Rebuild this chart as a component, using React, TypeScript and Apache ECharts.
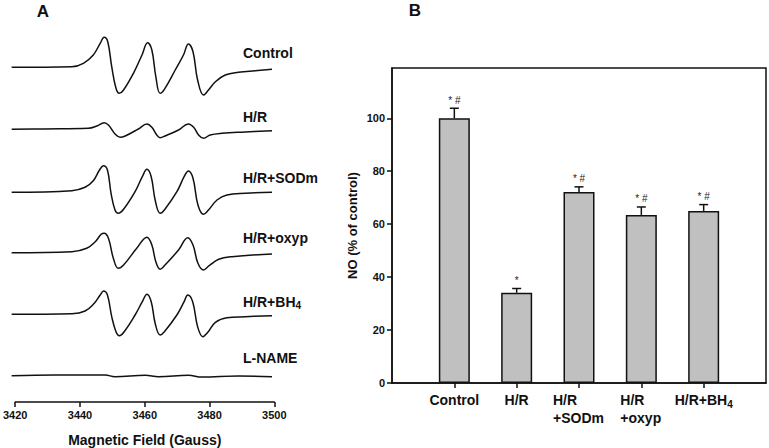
import React, { useEffect, useRef } from "react";
import * as echarts from "echarts";

// ---------- Panel A: EPR spectra (field in Gauss, intensity in a.u. relative to baseline) ----------
const fieldMin = 3420;
const fieldMax = 3500;
const fieldStep = 20;

const traceNames = ["Control", "H/R", "H/R+SODm", "H/R+oxyp", "H/R+BH4", "L-NAME"];

const controlTrace = [
  [3420.2, 0], [3438.5, 0.6], [3442.0, 4], [3445.0, 12.3], [3447.1, 24], [3448.3, 30],
  [3449.4, 25.6], [3450.6, 0.6], [3451.9, -21], [3452.9, -26], [3454.2, -22.7], [3457.2, -6],
  [3459.8, 12.3], [3461.5, 24.6], [3462.8, 17.3], [3464.0, -9.4], [3465.3, -26], [3466.6, -22],
  [3469.9, -2.7], [3472.4, 12.3], [3473.9, 23.3], [3475.3, 15.6], [3476.7, -12.7], [3478.5, -27.7],
  [3480.0, -22.7], [3482.1, -14.4], [3485.1, -7.7], [3489.1, -5], [3494.2, -3.4], [3499.3, -2],
];
const hrTrace = [
  [3420.2, 0], [3430.0, 0.4], [3443.5, 1], [3446.1, 3.3], [3448.3, 6.6], [3449.6, 4.3], [3451.6, -4.7],
  [3453.2, -8], [3454.7, -6.7], [3458.7, 0.3], [3461.3, 5.3], [3462.8, 2], [3464.3, -5.7],
  [3465.3, -8.4], [3466.8, -6.7], [3470.9, -0.7], [3473.9, 5.3], [3475.5, 2], [3477.0, -5.7],
  [3478.5, -9], [3480.5, -5.7], [3484.1, -4], [3491.2, -2.7], [3499.3, -1.4],
];
const sodmTrace = [
  [3420.2, 0], [3438.5, 1.6], [3442.5, 5], [3445.0, 11.6], [3446.9, 22.3], [3448.1, 26.6],
  [3449.3, 22.3], [3450.4, -1], [3451.6, -17.7], [3452.6, -21], [3454.2, -17], [3457.7, 0.6],
  [3459.9, 15.6], [3461.3, 23], [3462.6, 15.6], [3463.8, -7.7], [3465.3, -21], [3466.6, -17.7],
  [3470.4, 0.6], [3472.6, 15.6], [3473.9, 21.3], [3475.3, 14], [3476.8, -12.7], [3478.5, -22],
  [3480.0, -17.7], [3482.6, -7.7], [3485.6, -2.7], [3491.2, -1], [3499.3, 0],
];
const oxypTrace = [
  [3420.2, 0], [3438.5, 1], [3443.0, 4.4], [3445.6, 11], [3447.4, 18.4], [3448.3, 19.4],
  [3449.6, 14.4], [3451.1, -5.6], [3452.6, -15.6], [3454.2, -12.3], [3458.2, 4.4], [3461.3, 15.4],
  [3462.8, 7.7], [3464.0, -9], [3465.3, -16.6], [3466.8, -12.3], [3470.9, 2.7], [3473.7, 15],
  [3475.3, 7.7], [3476.8, -10.6], [3478.5, -17.3], [3480.2, -13], [3483.1, -6.6], [3487.1, -4],
  [3499.3, -1.3],
];
const bh4Trace = [
  [3420.2, 0], [3438.5, 0.6], [3442.5, 3.3], [3445.3, 11], [3447.1, 19.3], [3448.1, 23.3],
  [3449.3, 19.3], [3450.6, -2.4], [3451.9, -17.4], [3452.9, -21.4], [3454.4, -17.4], [3457.7, -0.7],
  [3459.9, 12.6], [3461.3, 20], [3462.6, 12.6], [3463.8, -9], [3465.3, -20.7], [3466.6, -17.4],
  [3470.4, -0.7], [3472.6, 12.6], [3473.7, 19.3], [3475.2, 12.6], [3476.7, -12.4], [3478.3, -22.4],
  [3479.8, -18], [3482.1, -8], [3485.6, -3.4], [3491.2, -2.4], [3499.3, -1.4],
];
const lnameTrace = [
  [3420.2, 0], [3433.4, 0.7], [3448.6, 0.7], [3451.6, -1], [3460.8, 0.4], [3464.8, -1],
  [3473.9, 0.4], [3478.0, -1.3], [3489.1, -0.3], [3499.3, -1],
];

const traces = [controlTrace, hrTrace, sodmTrace, oxypTrace, bh4Trace, lnameTrace];

// ---------- Panel B: NO (% of control) ----------
const groups = ["Control", "H/R", "H/R+SODm", "H/R+oxyp", "H/R+BH4"];
const noMeans = [100, 34.1, 72.2, 63.5, 65.0];
const noErrors = [3.8, 1.6, 1.9, 3.0, 2.4];
const noMarks = ["* #", "*", "* #", "* #", "* #"];
const noTicks = [0, 20, 40, 60, 80, 100];

// layout
const traceBaselines = [67.3, 129.3, 192.3, 252.7, 314.3, 375.7];
const traceLabelY = [53, 117, 178, 238, 302, 358];
const INK = "#111";
const FONT = "Liberation Sans";

export default function App() {
  const ref = useRef<HTMLDivElement>(null);

  useEffect(() => {
    if (!ref.current) return;
    const chart = echarts.init(ref.current, undefined, { renderer: "svg" });

    const grids: any[] = [];
    const xAxes: any[] = [];
    const yAxes: any[] = [];
    const series: any[] = [];

    traces.forEach((tr, i) => {
      grids.push({ left: 11, width: 263.3, top: traceBaselines[i] - 30, height: 60 });
      xAxes.push({ type: "value", gridIndex: i, min: fieldMin, max: fieldMax, show: false });
      yAxes.push({ type: "value", gridIndex: i, min: -30, max: 30, show: false });
      series.push({
        type: "line",
        name: traceNames[i],
        xAxisIndex: i,
        yAxisIndex: i,
        data: tr,
        showSymbol: false,
        smooth: 0.4,
        clip: false,
        lineStyle: { color: INK, width: 1.5 },
      });
    });

    // field axis
    const ai = traces.length;
    grids.push({ left: 11, width: 263.3, top: 380, height: 22 });
    xAxes.push({
      type: "value",
      gridIndex: ai,
      min: fieldMin,
      max: fieldMax,
      interval: fieldStep,
      splitLine: { show: false },
      axisLine: { lineStyle: { color: INK, width: 1.5 } },
      axisTick: { length: 5, lineStyle: { color: INK, width: 1.5 } },
      axisLabel: {
        color: INK,
        fontWeight: "bold",
        fontSize: 11,
        margin: 7,
        fontFamily: FONT,
        formatter: (v: number) => String(v),
      },
      name: "Magnetic Field (Gauss)",
      nameLocation: "middle",
      nameGap: 31,
      nameTextStyle: { color: INK, fontWeight: "bold", fontSize: 14, fontFamily: FONT },
    });
    yAxes.push({ type: "value", gridIndex: ai, show: false, min: 0, max: 1 });

    // bar panel
    const bi = ai + 1;
    const cats = ["", ...groups, ""];
    grids.push({
      left: 392,
      right: 1,
      top: 68,
      bottom: 65,
      show: true,
      borderColor: INK,
      borderWidth: 1.5,
    });
    xAxes.push({
      type: "category",
      gridIndex: bi,
      data: cats,
      boundaryGap: false,
      axisLine: { lineStyle: { color: INK, width: 1.5 } },
      axisTick: {
        length: 5,
        interval: (idx: number) => idx > 0 && idx < cats.length - 1,
        lineStyle: { color: INK, width: 1.5 },
      },
      axisLabel: {
        interval: 0,
        margin: 8,
        color: INK,
        fontWeight: "bold",
        fontSize: 14,
        lineHeight: 18,
        fontFamily: FONT,
        formatter: (v: string) => {
          if (v === "H/R+SODm") return "{s|H/R}\n{s|+SODm}";
          if (v === "H/R+oxyp") return "{o|H/R}\n{o|+oxyp}";
          if (v === "H/R+BH4") return "H/R+BH{sub|4}";
          return v;
        },
        rich: {
          s: { width: 52, align: "left", fontWeight: "bold", fontSize: 14, lineHeight: 18, color: INK, fontFamily: FONT },
          o: { width: 42, align: "left", fontWeight: "bold", fontSize: 14, lineHeight: 18, color: INK, fontFamily: FONT },
          sub: { fontSize: 10, fontWeight: "bold", verticalAlign: "bottom", lineHeight: 12, padding: [6, 0, 0, 0], color: INK, fontFamily: FONT },
        },
      },
    });
    yAxes.push({
      type: "value",
      gridIndex: bi,
      min: 0,
      max: 119,
      interval: 20,
      splitLine: { show: false },
      axisLine: { show: true, lineStyle: { color: INK, width: 1.5 } },
      axisTick: { show: true, length: 5, customValues: noTicks, lineStyle: { color: INK, width: 1.5 } },
      axisLabel: {
        customValues: noTicks,
        color: INK,
        fontWeight: "bold",
        fontSize: 11,
        margin: 7,
        fontFamily: FONT,
      },
      name: "NO (% of control)",
      nameLocation: "middle",
      nameRotate: 90,
      nameGap: 33,
      nameTextStyle: { color: INK, fontWeight: "bold", fontSize: 13, fontFamily: FONT },
    });

    series.push({
      type: "bar",
      xAxisIndex: bi,
      yAxisIndex: bi,
      data: ["-", ...noMeans, "-"],
      barWidth: 31,
      itemStyle: { color: "#c0c0c0", borderColor: INK, borderWidth: 1.5 },
    });
    series.push({
      type: "custom",
      xAxisIndex: bi,
      yAxisIndex: bi,
      z: 5,
      data: groups.map((g, i) => [i + 1, noMeans[i], noErrors[i], i]),
      renderItem: (params: any, api: any) => {
        const idx = api.value(0);
        const mean = api.value(1);
        const err = api.value(2);
        const k = api.value(3);
        const p0 = api.coord([idx, mean]);
        const p1 = api.coord([idx, mean + err]);
        const stroke = { stroke: INK, lineWidth: 1.5 };
        return {
          type: "group",
          children: [
            { type: "line", shape: { x1: p0[0], y1: p0[1], x2: p1[0], y2: p1[1] }, style: stroke },
            { type: "line", shape: { x1: p1[0] - 4.5, y1: p1[1], x2: p1[0] + 4.5, y2: p1[1] }, style: stroke },
            {
              type: "text",
              x: p1[0],
              y: p1[1] - 3,
              style: {
                text: noMarks[k],
                fill: "#222",
                fontSize: 10,
                fontFamily: FONT,
                align: "center",
                verticalAlign: "bottom",
              },
            },
          ],
        };
      },
    });

    const labelFont = { fontSize: 14, fontWeight: "bold", fontFamily: FONT, fill: INK };
    const graphic: any[] = [
      { type: "text", x: 43, y: 11, style: { text: "A", fontSize: 17, fontWeight: "bold", fontFamily: FONT, fill: INK, align: "center", verticalAlign: "middle" } },
      { type: "text", x: 415, y: 10, style: { text: "B", fontSize: 17, fontWeight: "bold", fontFamily: FONT, fill: INK, align: "center", verticalAlign: "middle" } },
    ];
    traceNames.forEach((n, i) => {
      const isBH4 = n === "H/R+BH4";
      graphic.push({
        type: "text",
        x: 243,
        y: traceLabelY[i],
        style: {
          ...labelFont,
          text: isBH4 ? "H/R+BH{sub|4}" : n,
          align: "left",
          verticalAlign: "middle",
          rich: isBH4
            ? {
                sub: { fontSize: 10, fontWeight: "bold", fontFamily: FONT, fill: INK, verticalAlign: "bottom", padding: [6, 0, 0, 0] },
              }
            : undefined,
        },
      });
    });

    chart.setOption({
      animation: false,
      backgroundColor: "#fff",
      grid: grids,
      xAxis: xAxes,
      yAxis: yAxes,
      series,
      graphic,
    });

    return () => chart.dispose();
  }, []);

  return (
    <div
      ref={ref}
      style={{ position: "fixed", left: 0, top: 0, width: 769, height: 448 }}
    />
  );
}
